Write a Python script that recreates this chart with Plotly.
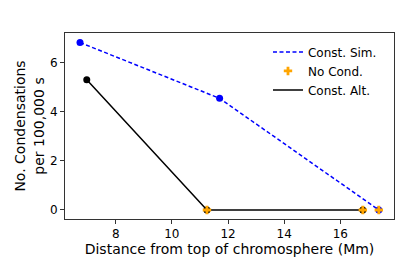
import plotly.graph_objects as go

sim_x = [6.73, 11.70, 17.37]
sim_y = [6.81, 4.54, 0.0]
alt_x = [6.97, 11.25, 16.80]
alt_y = [5.30, 0.0, 0.0]
nocond_x = [11.25, 16.80, 17.37]
nocond_y = [0.0, 0.0, 0.0]

xticks = [8, 10, 12, 14, 16]
yticks = [0, 2, 4, 6]

fig = go.Figure()
fig.add_trace(go.Scatter(x=sim_x, y=sim_y, mode="lines", name="Const. Sim.",
                         line=dict(color="#0000FF", width=1.5, dash="4px,2.5px"), legendrank=1))
fig.add_trace(go.Scatter(x=sim_x, y=sim_y, mode="markers", showlegend=False,
                         marker=dict(color="#0000FF", size=7)))
fig.add_trace(go.Scatter(x=alt_x, y=alt_y, mode="lines", name="Const. Alt.",
                         line=dict(color="black", width=1.5), legendrank=3))
fig.add_trace(go.Scatter(x=alt_x, y=alt_y, mode="markers", showlegend=False,
                         marker=dict(color="black", size=7)))
fig.add_trace(go.Scatter(x=nocond_x, y=nocond_y, mode="markers", name="No Cond.",
                         marker=dict(color="#FFA500", size=7, symbol="cross"), legendrank=2))

fig.update_layout(
    width=409, height=273,
    margin=dict(l=65, r=15, t=33, b=54),
    paper_bgcolor="white", plot_bgcolor="white",
    font=dict(family="DejaVu Sans", size=12, color="black"),
    legend=dict(x=0.617, y=0.976, xanchor="left", yanchor="top",
                font=dict(size=12), bgcolor="rgba(255,255,255,0.8)",
                tracegroupgap=0),
    xaxis=dict(range=[6.195, 17.91], tickvals=xticks, showgrid=False, zeroline=False,
               showline=True, linecolor="#333", linewidth=1, mirror=True,
               ticks="outside", ticklen=4, tickcolor="#333", automargin=False,
               title=dict(text="Distance from top of chromosphere (Mm)", standoff=2)),
    yaxis=dict(range=[-0.367, 7.197], tickvals=yticks, showgrid=False, zeroline=False,
               showline=True, linecolor="#333", linewidth=1, mirror=True,
               ticks="outside", ticklen=4, tickcolor="#333", automargin=False,
               title=dict(text="No. Condensations<br>per 100,000 s", standoff=2)),
)
fig.write_html("out.html", config={"displayModeBar": False},
               post_script="document.body.style.margin='0';document.body.style.overflow='hidden';")
